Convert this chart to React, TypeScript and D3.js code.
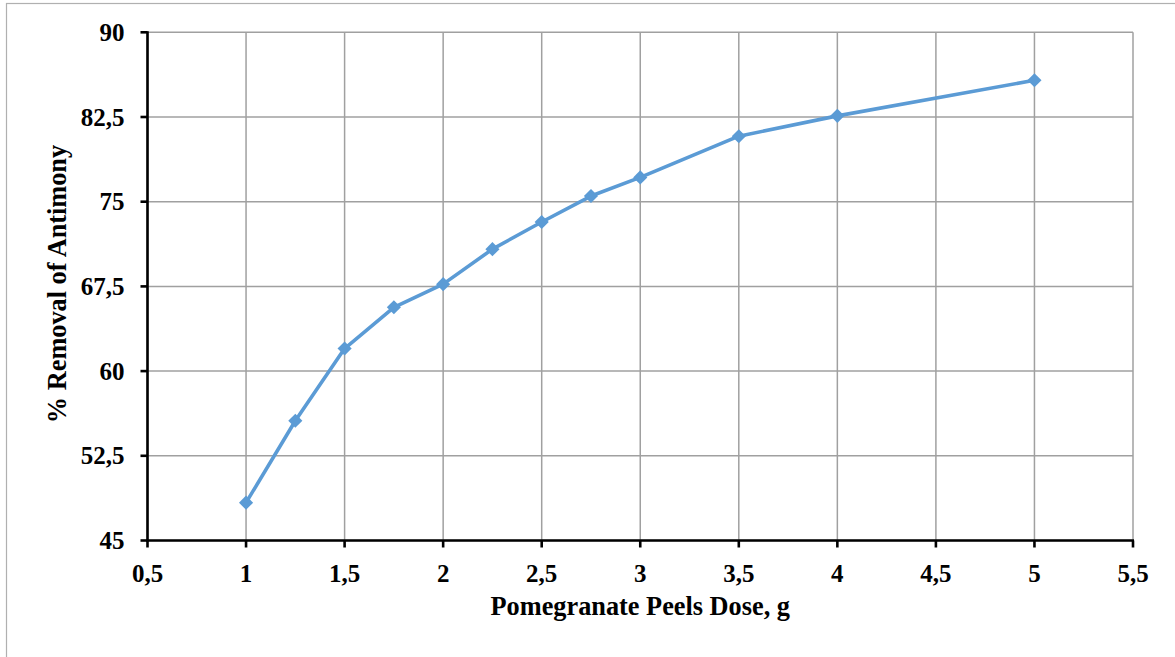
import {line, scaleLinear} from "d3";

const DOSES = [1, 1.25, 1.5, 1.75, 2, 2.25, 2.5, 2.75, 3, 3.5, 4, 5];
const REMOVAL = [48.35, 55.6, 62.0, 65.65, 67.7, 70.8, 73.2, 75.5, 77.15, 80.8, 82.6, 85.75];
const X_TICKS = [0.5, 1, 1.5, 2, 2.5, 3, 3.5, 4, 4.5, 5, 5.5];
const Y_TICKS = [45, 52.5, 60, 67.5, 75, 82.5, 90];

const WIDTH = 1175;
const HEIGHT = 657;
const FONT = "'Liberation Serif', 'Times New Roman', serif";
const LINE_COLOR = "#5b9bd5";

const fmt = (v: number) => String(v).replace(".", ",");

export default function App() {
  const margins = {top: 32.3, right: 42, bottom: 116.5, left: 147.5};
  const innerWidth = WIDTH - margins.left - margins.right;
  const innerHeight = HEIGHT - margins.top - margins.bottom;

  const x = scaleLinear().domain([0.5, 5.5]).range([0, innerWidth]);
  const y = scaleLinear().domain([45, 90]).range([innerHeight, 0]);

  const points = DOSES.map((d, i) => ({dose: d, value: REMOVAL[i]}));
  const path = line<{dose: number; value: number}>()
    .x((p) => x(p.dose))
    .y((p) => y(p.value))(points);

  return (
    <svg
      width={WIDTH}
      height={HEIGHT}
      style={{position: "absolute", left: 0, top: 0, display: "block", background: "#fff"}}
      fontFamily={FONT}
    >
      <rect x={6.5} y={3.5} width={WIDTH} height={HEIGHT} fill="none" stroke="#b0b0b0" strokeWidth={1.2} />
      <g transform={`translate(${margins.left},${margins.top})`}>
        {Y_TICKS.map((t) => (
          <line key={`gy-${t}`} x1={0} x2={innerWidth} y1={y(t)} y2={y(t)} stroke="#a0a0a0" strokeWidth={1.5} />
        ))}
        {X_TICKS.map((t) => (
          <line key={`gx-${t}`} x1={x(t)} x2={x(t)} y1={0} y2={innerHeight} stroke="#a0a0a0" strokeWidth={1.5} />
        ))}

        <line x1={0} x2={0} y1={-1} y2={innerHeight + 1} stroke="#000" strokeWidth={2.6} />
        <line x1={-1} x2={innerWidth + 1} y1={innerHeight} y2={innerHeight} stroke="#000" strokeWidth={2.6} />

        {Y_TICKS.map((t) => (
          <g key={`ty-${t}`} transform={`translate(0,${y(t)})`}>
            <line x1={-7} x2={0} stroke="#000" strokeWidth={2.6} />
            <text x={-23} dy="0.34em" textAnchor="end" fontSize={25} fontWeight="bold">
              {fmt(t)}
            </text>
          </g>
        ))}
        {X_TICKS.map((t) => (
          <g key={`tx-${t}`} transform={`translate(${x(t)},${innerHeight})`}>
            <line y1={0} y2={7} stroke="#000" strokeWidth={2.6} />
            <text y={41} textAnchor="middle" fontSize={25} fontWeight="bold">
              {fmt(t)}
            </text>
          </g>
        ))}

        <path d={path ?? ""} fill="none" stroke={LINE_COLOR} strokeWidth={3.6} strokeLinejoin="round" />
        {points.map((p) => (
          <rect
            key={`m-${p.dose}`}
            x={-5}
            y={-5}
            width={10}
            height={10}
            fill={LINE_COLOR}
            transform={`translate(${x(p.dose)},${y(p.value)}) rotate(45)`}
          />
        ))}

        <text x={innerWidth / 2} y={innerHeight + 75} textAnchor="middle" fontSize={26.3} fontWeight="bold">
          Pomegranate Peels Dose, g
        </text>
        <text
          transform={`translate(${66 - margins.left},${284 - margins.top}) rotate(-90)`}
          textAnchor="middle"
          fontSize={26.3}
          fontWeight="bold"
        >
          % Removal of Antimony
        </text>
      </g>
    </svg>
  );
}
